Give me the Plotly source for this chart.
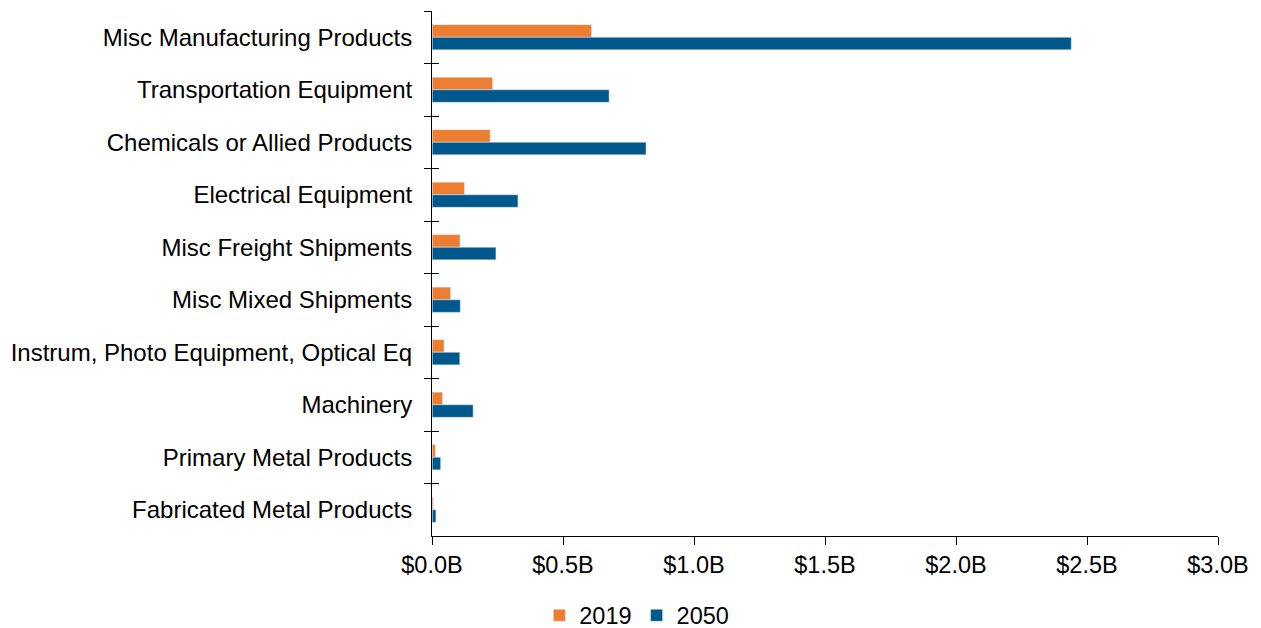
import plotly.graph_objects as go

categories = [
    "Misc Manufacturing Products",
    "Transportation Equipment",
    "Chemicals or Allied Products",
    "Electrical Equipment",
    "Misc Freight Shipments",
    "Misc Mixed Shipments",
    "Instrum, Photo Equipment, Optical Eq",
    "Machinery",
    "Primary Metal Products",
    "Fabricated Metal Products",
]
values_2019 = [0.609, 0.231, 0.222, 0.124, 0.107, 0.071, 0.046, 0.040, 0.013, 0.005]
values_2050 = [2.440, 0.676, 0.817, 0.328, 0.244, 0.108, 0.106, 0.157, 0.033, 0.015]
x_ticks = [0, 0.5, 1.0, 1.5, 2.0, 2.5, 3.0]
x_tick_labels = ["$0.0B", "$0.5B", "$1.0B", "$1.5B", "$2.0B", "$2.5B", "$3.0B"]

ORANGE = "#ED7D31"
BLUE = "#00588C"
FONT = "Liberation Sans, Arial, sans-serif"

fig = go.Figure()
fig.add_trace(go.Bar(name="2019", y=categories, x=values_2019, orientation="h",
                     marker=dict(color=ORANGE)))
fig.add_trace(go.Bar(name="2050", y=categories, x=values_2050, orientation="h",
                     marker=dict(color=BLUE)))
# invisible trace that carries the second y axis (inner half of the crossing ticks)
fig.add_trace(go.Bar(y=categories, x=[0] * len(categories), orientation="h",
                     yaxis="y2", showlegend=False, hoverinfo="skip",
                     marker=dict(color="rgba(0,0,0,0)")))

fig.update_layout(
    width=1261, height=628,
    margin=dict(l=432, r=43, t=11, b=92),
    paper_bgcolor="white", plot_bgcolor="white",
    barmode="group", bargap=0.52, bargroupgap=0,
    font=dict(family=FONT, size=23.5, color="#000000"),
    xaxis=dict(
        range=[0, 3], tickvals=x_ticks, ticktext=x_tick_labels,
        showgrid=False, zeroline=False,
        showline=True, linecolor="#000000", linewidth=1,
        ticks="outside", ticklen=8, tickcolor="#000000", tickwidth=1,
        tickfont=dict(size=23.5),
    ),
    yaxis=dict(
        autorange="reversed", type="category",
        showgrid=False, zeroline=False,
        showline=True, linecolor="#000000", linewidth=1,
        ticks="outside", tickson="boundaries", ticklen=7,
        tickcolor="#000000", tickwidth=1,
        ticklabelstandoff=14, tickfont=dict(size=24),
    ),
    yaxis2=dict(
        overlaying="y", matches="y", side="left", type="category",
        showgrid=False, zeroline=False, showticklabels=False,
        ticks="inside", tickson="boundaries", ticklen=7,
        tickcolor="#000000", tickwidth=1, showline=False,
    ),
    legend=dict(
        orientation="h", xref="container", yref="container",
        x=0.505, xanchor="center", y=0.02, yanchor="middle",
        font=dict(size=23.5), itemwidth=30, traceorder="normal",
    ),
    showlegend=True,
)

fig.write_html("out.html")
